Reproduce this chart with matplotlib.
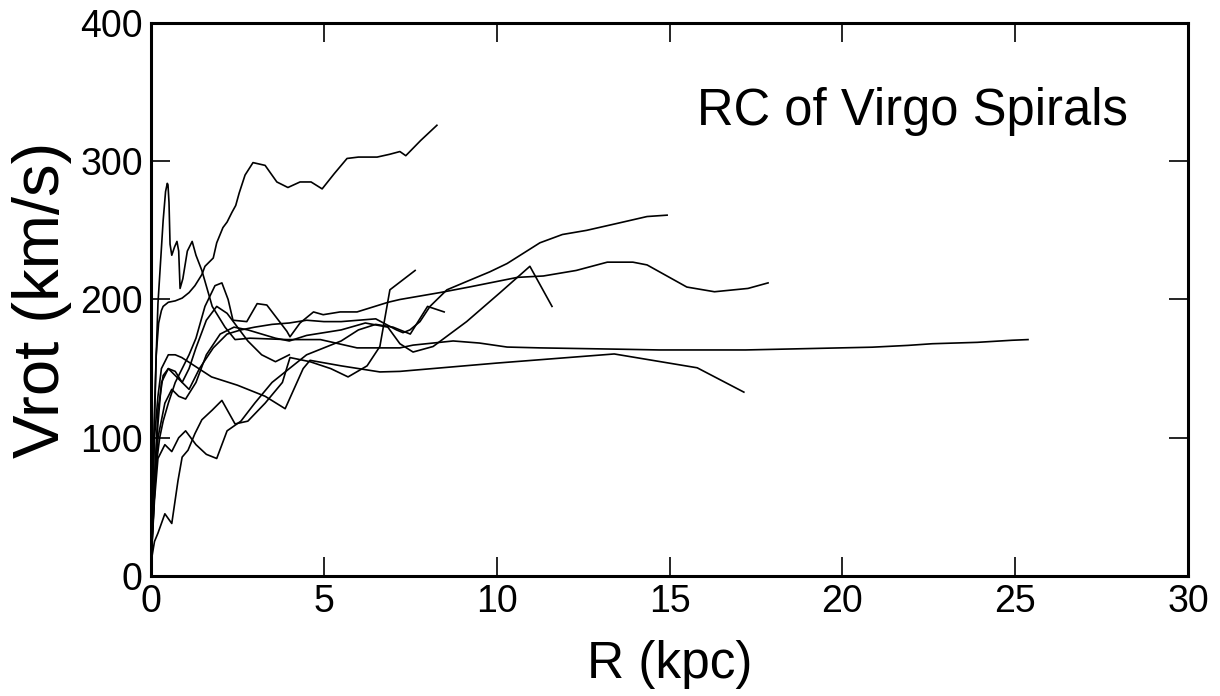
import matplotlib
matplotlib.use("Agg")
import matplotlib.pyplot as plt

# Rotation curves (R in kpc, Vrot in km/s)
r1 = [0.0, 0.05, 0.1, 0.15, 0.22, 0.3, 0.35, 0.5, 0.7, 0.9, 1.1, 1.27, 1.47, 1.56, 1.8, 1.9, 2.08, 2.2, 2.34, 2.45, 2.55, 2.72, 2.95, 3.3, 3.64, 3.96, 4.31, 4.63, 4.95, 5.3, 5.67, 6.0, 6.54, 6.9, 7.2, 7.37, 7.8, 8.27]
v1 = [15, 70, 120, 160, 183, 192, 195, 198, 199, 201, 205, 210, 218, 224, 230, 241, 252, 256, 263, 268, 277, 290, 299, 297, 285, 281, 285, 285, 280, 291, 302, 303, 303, 305, 307, 304, 315, 326]

r2 = [0.0, 0.05, 0.1, 0.15, 0.2, 0.26, 0.35, 0.42, 0.47, 0.49, 0.52, 0.55, 0.6, 0.68, 0.75, 0.8, 0.84, 0.92, 1.05, 1.19, 1.3, 1.47, 1.77, 2.14, 2.43, 2.86, 3.93, 4.9, 5.96, 7.2, 7.58, 8.16, 8.74, 9.5, 10.3, 11.25, 13.65, 14.7, 17.2, 20.86, 21.9, 22.6, 23.9, 24.9, 25.37]
v2 = [10, 60, 110, 160, 197, 221, 257, 278, 284, 283, 270, 240, 232, 238, 242, 235, 208, 215, 235, 242, 232, 221, 195, 180, 171, 172, 171, 171, 165, 165, 167, 168.5, 170, 168.5, 165.6, 165, 164, 163.5, 163.5, 165.5, 166.8, 168, 169, 170.5, 171]

r3 = [0.0, 0.08, 0.15, 0.25, 0.35, 0.5, 0.7, 0.9, 1.1, 1.3, 1.56, 1.85, 2.05, 2.23, 2.37, 2.77, 3.07, 3.35, 3.93, 4.02, 4.31, 4.7, 4.98, 5.47, 5.96, 6.86, 7.2, 8.36, 9.2, 10.0, 10.6, 11.35, 12.3, 13.2, 13.94, 14.35, 15.5, 16.3, 17.27, 17.85]
v3 = [8, 50, 80, 100, 112, 125, 140, 150, 160, 172, 195, 210, 212, 200, 185, 184, 197, 196, 177, 173, 183, 191, 189, 191, 191, 198, 200, 205, 209, 213, 216, 217, 221, 227, 227, 225, 209, 205.6, 208, 212]

r4 = [0.0, 0.1, 0.2, 0.35, 0.5, 0.7, 0.9, 1.1, 1.4, 1.8, 2.2, 2.6, 3.0, 3.5, 4.0, 4.5, 5.0, 5.5, 6.0, 6.5, 7.1, 7.29, 7.49, 7.78, 8.07, 8.56, 9.13, 9.8, 10.3, 10.87, 11.25, 11.9, 12.6, 13.48, 14.35, 14.93]
v4 = [10, 70, 120, 145, 150, 148, 140, 135, 150, 165, 175, 178, 180, 182, 183, 185, 184, 184, 185, 186, 178, 176, 178, 184, 195, 207, 213, 220, 226, 235, 241, 247, 250, 255, 260, 261]

r5 = [0.0, 0.05, 0.1, 0.2, 0.3, 0.5, 0.7, 0.89, 1.75, 2.5, 3.3, 3.88, 4.4, 4.6, 5.5, 6.62, 7.2, 10.0, 13.4, 15.8, 17.15]
v5 = [10, 60, 100, 130, 150, 160, 160, 158, 144, 138, 130, 121, 150, 156, 152, 147.6, 148, 154, 160.6, 150.6, 133]

r6 = [0.0, 0.1, 0.2, 0.4, 0.6, 0.8, 1.0, 1.3, 1.6, 2.0, 2.4, 2.8, 3.2, 3.6, 4.0, 4.5, 5.0, 5.5, 6.2, 6.85, 7.2, 7.58, 8.16, 9.13, 10.1, 10.96, 11.6]
v6 = [10, 60, 100, 125, 135, 130, 128, 140, 160, 175, 180, 178, 175, 172, 170, 174, 176, 178, 183, 180, 168, 162, 166, 184, 205, 224, 195]

r7 = [0.0, 0.1, 0.2, 0.4, 0.6, 0.78, 0.9, 1.07, 1.27, 1.47, 1.77, 2.05, 2.43, 2.8, 3.3, 3.8, 4.02, 4.6, 5.2, 5.7, 6.25, 6.62, 6.91, 7.64]
v7 = [10, 25, 31, 45, 38, 69, 86, 91, 103, 113, 120, 127, 110, 112, 125, 140, 158, 155, 150, 144, 152, 166, 207, 221]

r8 = [0.0, 0.1, 0.2, 0.4, 0.6, 0.8, 1.0, 1.3, 1.6, 1.9, 2.2, 2.6, 3.0, 3.5, 4.0, 4.5, 5.0, 5.5, 6.0, 6.5, 7.0, 7.5, 8.0, 8.48]
v8 = [10, 55, 85, 95, 90, 100, 105, 95, 88, 85, 105, 112, 125, 140, 150, 160, 165, 170, 178, 182, 180, 175, 195, 191]

r9 = [0.0, 0.1, 0.2, 0.3, 0.5, 0.7, 0.9, 1.1, 1.3, 1.6, 1.9, 2.2, 2.5, 2.8, 3.2, 3.6, 4.0]
v9 = [10, 70, 110, 140, 150, 145, 140, 150, 165, 185, 195, 190, 180, 170, 160, 155, 160]

curves_r = [r1, r2, r3, r4, r5, r6, r7, r8, r9]
curves_v = [v1, v2, v3, v4, v5, v6, v7, v8, v9]

x_ticks = [0, 5, 10, 15, 20, 25, 30]
y_ticks = [0, 100, 200, 300, 400]

plt.rcParams['font.family'] = ['Liberation Sans', 'DejaVu Sans']

fig = plt.figure(figsize=(12.2, 6.96), dpi=100)
ax = fig.add_axes([0.1238, 0.1724, 0.8500, 0.7946])

for rr, vv in zip(curves_r, curves_v):
    ax.plot(rr, vv, color='black', lw=1.2)

ax.set_xlim(0, 30)
ax.set_ylim(0, 400)
ax.set_xticks(x_ticks)
ax.set_yticks(y_ticks)
ax.tick_params(direction='in', length=14, width=1.2, top=True, right=True,
               labelsize=27, pad=6)
for s in ax.spines.values():
    s.set_linewidth(2.2)

ax.set_xlabel('R (kpc)', fontsize=37, labelpad=14)
ax.set_ylabel('Vrot (km/s)', fontsize=47, labelpad=6)
ax.text(15.8, 326, 'RC of Virgo Spirals', fontsize=36.5)

fig.savefig('out.png', dpi=100)
